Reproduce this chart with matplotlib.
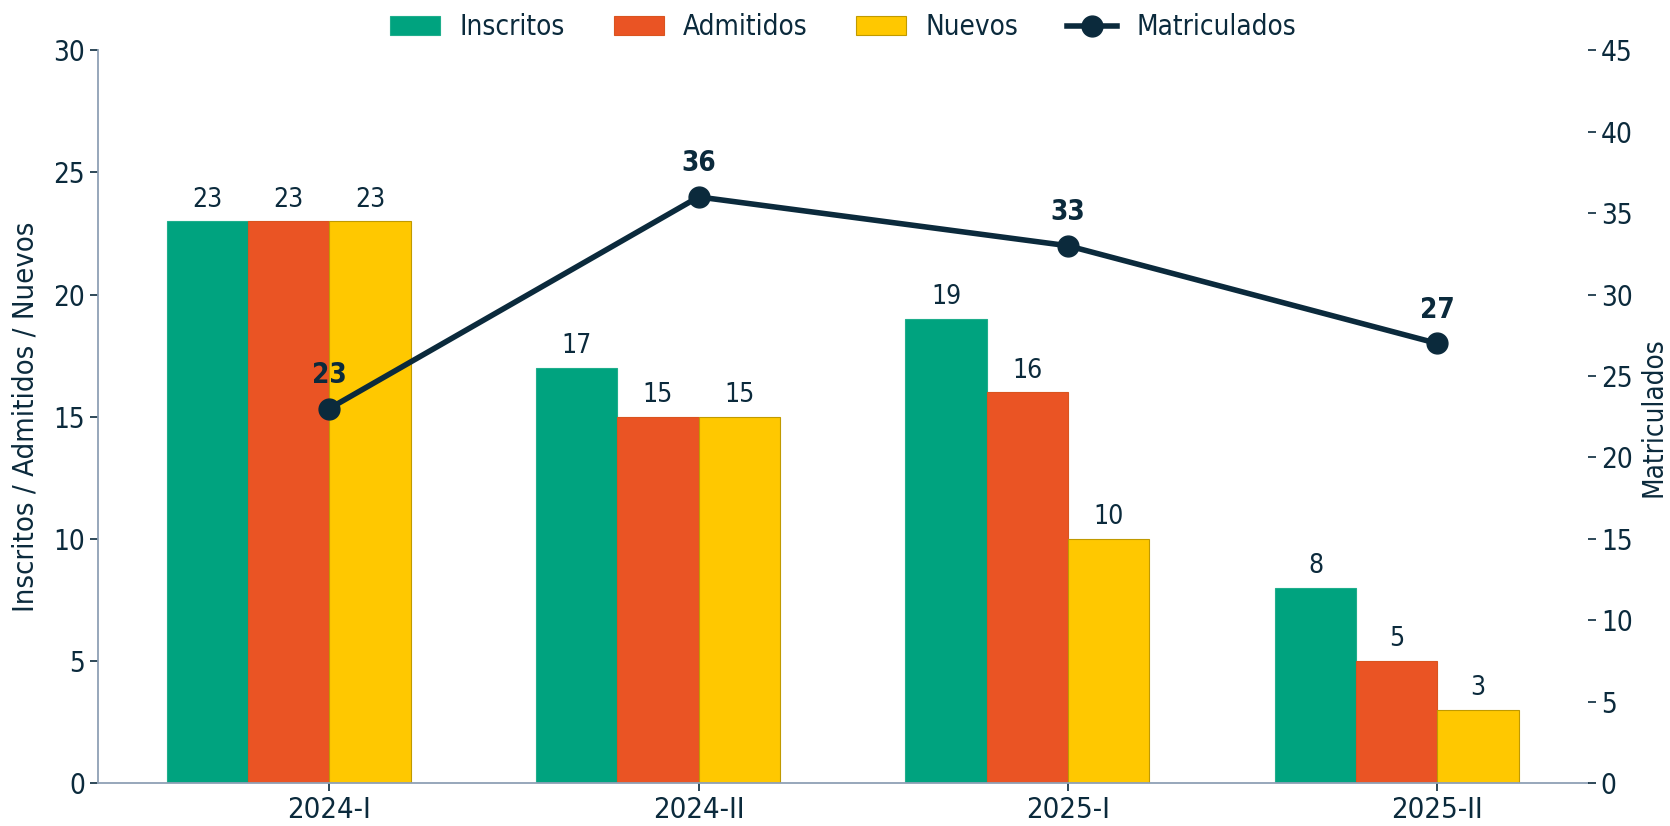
import matplotlib
matplotlib.use("Agg")
import matplotlib.pyplot as plt
from matplotlib import font_manager as fm
import numpy as np

periods = ["2024-I", "2024-II", "2025-I", "2025-II"]
inscritos = [23, 17, 19, 8]
admitidos = [23, 15, 16, 5]
nuevos = [23, 15, 10, 3]
matriculados = [23, 36, 33, 27]

cond = any('Condensed' in f.fname for f in fm.fontManager.ttflist if 'DejaVu' in f.name)
plt.rcParams['font.family'] = ['DejaVu Sans']
if cond:
    plt.rcParams['font.stretch'] = 'condensed'

navy = "#0b2a3c"
spine_c = "#8fa0b5"
c_ins, c_adm, c_nue = "#00a37f", "#ea5424", "#ffc800"

fig = plt.figure(figsize=(16.7, 8.26), dpi=100)
ax = fig.add_axes([0.0587, 0.052, 0.892, 0.887])
ax2 = ax.twinx()

x = np.arange(len(periods))
w = 0.22
ax.bar(x - 1.5 * w, inscritos, w, color=c_ins, edgecolor="#1fae8c", linewidth=0.8, label="Inscritos", zorder=2)
ax.bar(x - 0.5 * w, admitidos, w, color=c_adm, edgecolor="#d9541f", linewidth=0.8, label="Admitidos", zorder=2)
ax.bar(x + 0.5 * w, nuevos, w, color=c_nue, edgecolor="#c09a00", linewidth=0.8, label="Nuevos", zorder=2)

for off, vals in [(-1.5, inscritos), (-0.5, admitidos), (0.5, nuevos)]:
    for xi, v in zip(x, vals):
        ax.text(xi + off * w, v + 0.35, str(v), ha="center", va="bottom", fontsize=19, color=navy)

ax2.plot(x, matriculados, color=navy, lw=4, marker="o", ms=15, label="Matriculados", zorder=5)
for xi, v in zip(x, matriculados):
    ax2.text(xi, v + 1.2, str(v), ha="center", va="bottom", fontsize=20, fontweight="bold", color=navy)

ax.set_xlim(-0.626, 3.407)
ax.set_ylim(0, 30)
ax2.set_ylim(0, 45)
ax.set_yticks(np.arange(0, 31, 5))
ax2.set_yticks(np.arange(0, 46, 5))
ax.set_xticks(x)
ax.set_xticklabels(periods)

for a in (ax, ax2):
    a.spines['top'].set_visible(False)
    a.spines['right'].set_visible(False)
    a.tick_params(colors=navy, labelsize=20, length=6, width=1.2)
ax2.spines['left'].set_visible(False)
ax2.spines['bottom'].set_visible(False)
ax.spines['left'].set_color(spine_c)
ax.spines['bottom'].set_color(spine_c)
ax.spines['left'].set_linewidth(1.3)
ax.spines['bottom'].set_linewidth(1.3)
ax.tick_params(axis='x', labelsize=21, colors=navy)
ax.set_ylabel("Inscritos / Admitidos / Nuevos", fontsize=21, color=navy, labelpad=10)
ax2.set_ylabel("Matriculados", fontsize=20, color=navy, labelpad=5)

h1, l1 = ax.get_legend_handles_labels()
h2, l2 = ax2.get_legend_handles_labels()
leg = fig.legend(h1 + h2, l1 + l2, loc="upper center", bbox_to_anchor=(0.505, 1.014), ncol=4,
                 frameon=False, fontsize=20, handlelength=1.8, columnspacing=1.75, handletextpad=0.7)
for t in leg.get_texts():
    t.set_color(navy)

fig.savefig("out.png", dpi=100)
